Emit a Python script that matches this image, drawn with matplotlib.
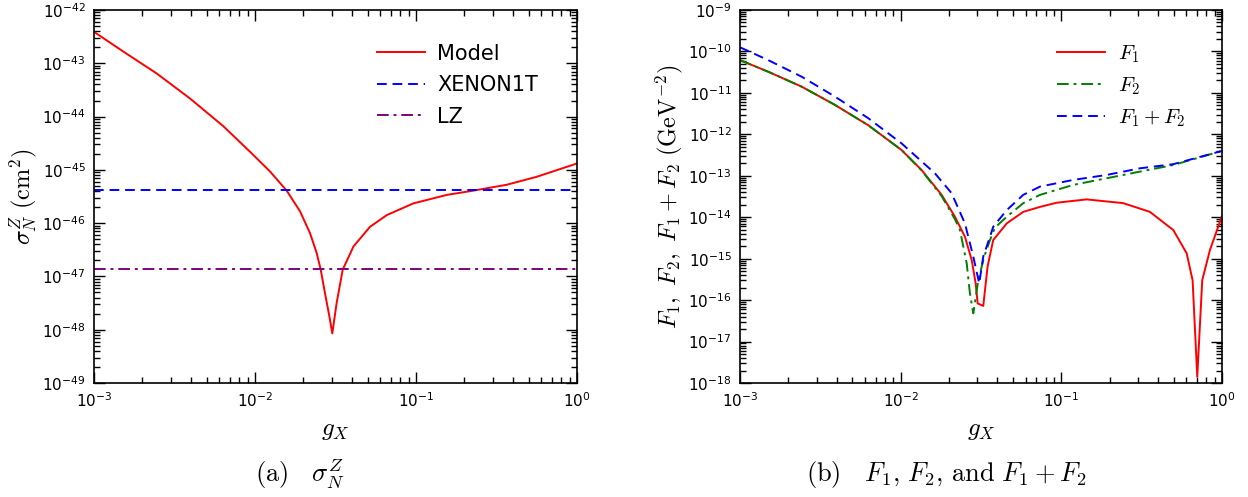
import numpy as np
import matplotlib
matplotlib.use("Agg")
import matplotlib.pyplot as plt
from matplotlib.ticker import LogLocator, NullFormatter

plt.rcParams['mathtext.fontset'] = 'cm'
plt.rcParams['font.family'] = ['DejaVu Sans']

# ---------------- data: panel (a)  (log10 values) ----------------
log_g_model = [-3.0, -2.818, -2.611, -2.404, -2.197, -2.031, -1.907, -1.803, -1.72, -1.658,
               -1.617, -1.592, -1.565, -1.538, -1.52, -1.493, -1.455, -1.41, -1.389, -1.286,
               -1.182, -1.017, -0.809, -0.644, -0.437, -0.25, 0.0]
log_sigma_model = [-42.41, -42.78, -43.19, -43.66, -44.18, -44.66, -45.03, -45.39, -45.78, -46.19,
                   -46.56, -46.87, -47.32, -47.75, -48.07, -47.50, -46.87, -46.58, -46.44, -46.07,
                   -45.85, -45.63, -45.47, -45.39, -45.28, -45.13, -44.88]
xenon1t = 4.1e-46
lz = 1.38e-47

# ---------------- data: panel (b)  (log10 values) ----------------
log_g_F1 = [-3.0, -2.824, -2.616, -2.409, -2.202, -1.994, -1.87, -1.745, -1.662, -1.6,
            -1.558, -1.533, -1.521, -1.486, -1.459, -1.424, -1.34, -1.237, -1.132, -1.029,
            -0.843, -0.615, -0.449, -0.303, -0.22, -0.183, -0.154, -0.123, -0.075, 0.0]
log_F1 = [-10.21, -10.49, -10.85, -11.29, -11.78, -12.38, -12.86, -13.46, -13.99, -14.47,
          -15.03, -15.60, -16.08, -16.14, -15.19, -14.55, -14.15, -13.87, -13.75, -13.65,
          -13.57, -13.66, -13.87, -14.31, -14.87, -15.52, -17.85, -15.52, -14.79, -13.97]

log_g_F2 = [-3.0, -2.824, -2.616, -2.409, -2.202, -1.994, -1.87, -1.745, -1.662, -1.631,
            -1.589, -1.569, -1.548, -1.517, -1.48, -1.444, -1.413, -1.34, -1.237, -1.132,
            -0.926, -0.718, -0.511, -0.303, 0.0]
log_F2 = [-10.21, -10.49, -10.85, -11.29, -11.78, -12.38, -12.87, -13.49, -14.05, -14.31,
          -15.11, -15.84, -16.32, -15.52, -14.95, -14.55, -14.25, -13.99, -13.66, -13.46,
          -13.22, -13.06, -12.90, -12.74, -12.40]

log_g_F12 = [-3.0, -2.824, -2.616, -2.409, -2.202, -1.994, -1.787, -1.683, -1.6, -1.548,
             -1.511, -1.486, -1.444, -1.424, -1.34, -1.237, -1.132, -0.926, -0.718, -0.511,
             -0.303, 0.0]
log_F12 = [-9.90, -10.21, -10.61, -11.09, -11.61, -12.22, -12.94, -13.42, -14.15, -14.95,
           -15.60, -14.95, -14.47, -14.23, -13.83, -13.46, -13.26, -13.10, -12.98, -12.82,
           -12.72, -12.40]


def pw(a):
    return np.power(10.0, np.asarray(a, dtype=float))


# ---------------- figure ----------------
fig = plt.figure(figsize=(12.48, 4.97), dpi=100)
ax1 = fig.add_axes([94 / 1248, 114 / 497, 483 / 1248, 373 / 497])
ax2 = fig.add_axes([740 / 1248, 114 / 497, 482 / 1248, 373 / 497])

lw = 1.4
dash = (0, (5, 3))
dashdot = (0, (6, 2.5, 1.5, 2.5))

ax1.plot(pw(log_g_model), pw(log_sigma_model), color='red', lw=lw, label='Model')
ax1.axhline(xenon1t, color='blue', lw=lw, ls=dash, label='XENON1T')
ax1.axhline(lz, color='purple', lw=lw, ls=dashdot, label='LZ')
ax1.set_xscale('log')
ax1.set_yscale('log')
ax1.set_xlim(1e-3, 1.0)
ax1.set_ylim(1e-49, 1e-42)
ax1.set_xlabel(r'$g_X$', fontsize=18, labelpad=6)
ax1.set_ylabel(r'$\sigma_N^Z\ (\mathrm{cm}^2)$', fontsize=17.5, labelpad=2)
ax1.legend(loc='upper right', frameon=False, fontsize=15, handlelength=2.3,
           handletextpad=0.6, labelspacing=0.55, bbox_to_anchor=(0.958, 0.96))

ax2.plot(pw(log_g_F1), pw(log_F1), color='red', lw=lw, label=r'$F_1$')
ax2.plot(pw(log_g_F2), pw(log_F2), color='green', lw=lw, ls=dashdot, label=r'$F_2$')
ax2.plot(pw(log_g_F12), pw(log_F12), color='blue', lw=lw, ls=dash, label=r'$F_1+F_2$')
ax2.set_xscale('log')
ax2.set_yscale('log')
ax2.set_xlim(1e-3, 1.0)
ax2.set_ylim(1e-18, 1e-9)
ax2.set_xlabel(r'$g_X$', fontsize=18, labelpad=6)
ax2.set_ylabel(r'$F_1,\ F_2,\ F_1+F_2\ (\mathrm{GeV}^{-2})$', fontsize=17.5, labelpad=2)
ax2.legend(loc='upper right', frameon=False, fontsize=15, handlelength=2.3,
           handletextpad=0.6, labelspacing=0.5, bbox_to_anchor=(0.963, 0.96))

for ax in (ax1, ax2):
    ax.xaxis.set_major_locator(LogLocator(base=10, numticks=20))
    ax.yaxis.set_major_locator(LogLocator(base=10, numticks=20))
    ax.xaxis.set_minor_locator(LogLocator(base=10, subs=np.arange(2, 10), numticks=20))
    ax.yaxis.set_minor_locator(LogLocator(base=10, subs=np.arange(2, 10), numticks=20))
    ax.yaxis.set_minor_formatter(NullFormatter())
    ax.xaxis.set_minor_formatter(NullFormatter())
    ax.tick_params(which='both', direction='in', top=True, right=True, labelsize=11, width=1)
    ax.tick_params(which='major', length=8, pad=6)
    ax.tick_params(which='minor', length=4)
    for s in ax.spines.values():
        s.set_linewidth(1.2)

fig.text(300 / 1248, 1 - 474 / 497, r'$\mathrm{(a)}\ \ \ \sigma_N^Z$', fontsize=19,
         ha='center', va='center')
fig.text(946 / 1248, 1 - 474 / 497, r'$\mathrm{(b)}\ \ \ F_1,\,F_2,\,\mathrm{and}\ F_1+F_2$',
         fontsize=19, ha='center', va='center')

fig.savefig('out.png', dpi=100)
